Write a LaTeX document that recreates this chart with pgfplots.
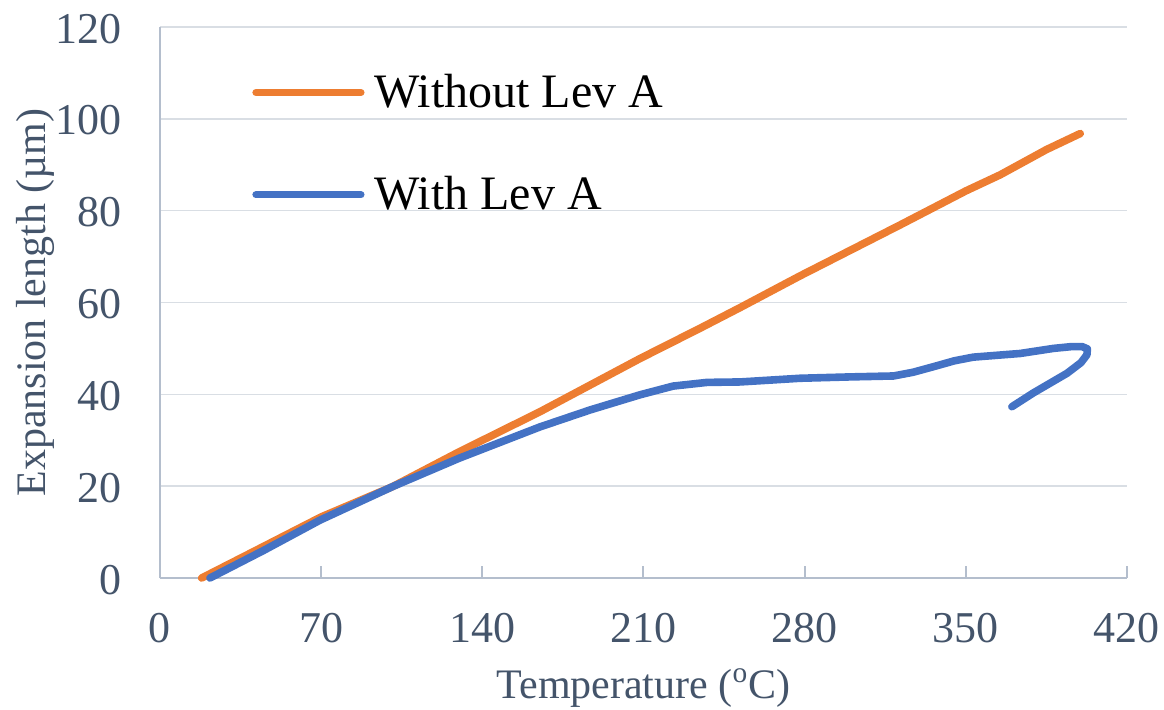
\documentclass[border=0pt]{standalone}
\usepackage{pgfplots}
\pgfplotsset{compat=1.18}
\usepackage{fontspec}
\setmainfont{Liberation Serif}

\definecolor{labelcol}{RGB}{68,84,106}
\definecolor{axisgray}{RGB}{180,190,205}
\definecolor{gridgray}{RGB}{217,222,228}
\definecolor{xlorange}{RGB}{237,125,49}
\definecolor{xlblue}{RGB}{68,114,196}

\begin{document}
\begin{tikzpicture}
\useasboundingbox (-80pt,-65.5pt) rectangle (502pt,289pt);
\begin{axis}[
  at={(0pt,0pt)}, anchor=south west,
  scale only axis, width=483.5pt, height=275.5pt,
  xmin=0, xmax=420, ymin=0, ymax=120,
  xtick={0,70,...,420}, ytick={0,20,...,120},
  axis x line*=bottom, axis y line*=left,
  axis line style={draw=axisgray, line width=1pt, -},
  ymajorgrids, grid style={draw=gridgray, line width=0.8pt},
  xtick align=inside, major tick length=6pt,
  xtick style={draw=axisgray, line width=1pt},
  ytick style={draw=none},
  /pgf/number format/assume math mode=true,
  tick label style={font=\fontsize{22}{26}\selectfont, text=labelcol, inner sep=0pt},
  xticklabel style={anchor=base, yshift=-32pt},
  yticklabel style={anchor=base east, xshift=-19pt, yshift=-8pt},
  xlabel={Temperature (\textsuperscript{o}C)},
  ylabel={Expansion length (µm)},
  label style={font=\fontsize{21}{25}\selectfont, text=labelcol, inner sep=0pt},
  xlabel style={at={(axis description cs:0.5,-0.2178)}, anchor=base},
  ylabel style={at={(axis description cs:-0.1189,0.5)}, anchor=base},
  legend style={at={(axis description cs:0.0951,0.922)}, anchor=north west,
    draw=none, fill=none, inner sep=0pt, row sep=29pt, column sep=3pt,
    font=\fontsize{24}{28}\selectfont, text=black},
  legend cell align=left,
  legend image code/.code={\draw[line width=3.6pt] (0pt,0pt) -- (52.5pt,0pt);},
  clip=false,
]
% thermal expansion without the additive
\addplot[color=xlorange, line width=3.8pt, line join=round, line cap=round] coordinates {
  (18.1,0) (40,5.6) (70,13.3) (101,19.9) (121.6,25.3) (130,27.5)
  (165,36.2) (208.5,47.8) (234.6,54.4) (252,58.9) (278,65.8)
  (321.5,76.9) (350,84.3) (364.9,87.8) (385,93.3) (399.7,96.8)
};
\addlegendentry{Without Lev A}
% thermal expansion with the additive, including the cooling return
\addplot[color=xlblue, line width=3.8pt, line join=round, line cap=round] coordinates {
  (21.7,0) (45,6) (69.5,12.6) (101,19.9) (130,26.1) (165,32.9)
  (186.8,36.6) (208.5,39.9) (222.9,41.8) (237.6,42.6) (252,42.7)
  (278,43.5) (300,43.8) (318.6,44.0) (327,44.8) (335.8,46.0)
  (345,47.3) (353.2,48.1) (373.6,48.9) (388,50.0) (396,50.4)
  (400.5,50.4) (402.8,49.9) (402.6,48.6) (400,46.9) (394,44.6)
  (379.3,40.3) (370,37.3)
};
\addlegendentry{With Lev A}
\end{axis}
\end{tikzpicture}
\end{document}
